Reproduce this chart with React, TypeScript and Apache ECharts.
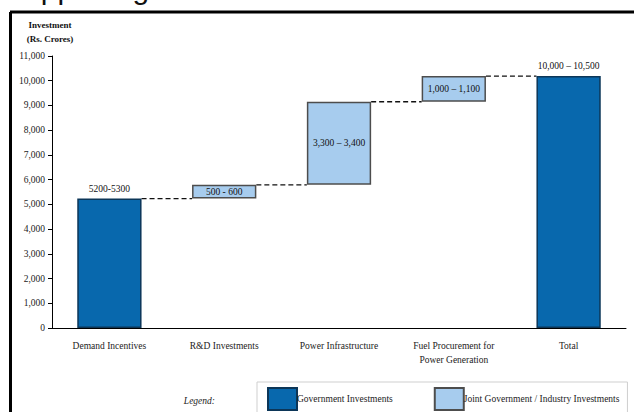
import React, { useEffect, useRef } from "react";
import * as echarts from "echarts";

const categories = [
  "Demand Incentives",
  "R&D Investments",
  "Power Infrastructure",
  "Fuel Procurement for\nPower Generation",
  "Total",
];
// Step sizes (Rs. Crores)
const governmentValues: (number | string)[] = [5235, "-", "-", "-", 10190];
const jointValues: (number | string)[] = ["-", 555, 3360, 1040, "-"];
const barLabels = ["5200-5300", "500 - 600", "3,300 – 3,400", "1,000 – 1,100", "10,000 – 10,500"];
const yTicks = { min: 0, max: 11000, interval: 1000 };

const DARK = "#0868ad";
const DARK_BORDER = "#0c3658";
const LIGHT = "#a7ccee";
const LIGHT_BORDER = "#4d4d4d";
const FONT = "Liberation Serif";
const BAR_RATIO = 0.56;

export default function App() {
  const ref = useRef<HTMLDivElement>(null);
  useEffect(() => {
    document.body.style.margin = "0";
    const chart = echarts.init(ref.current!, undefined, { renderer: "svg" });

    // invisible bases for the floating (waterfall) steps, built from the data
    const baseValues: number[] = [];
    const levels: number[] = [];
    let running = 0;
    categories.forEach((_, i) => {
      const isTotal = i === categories.length - 1;
      const g = governmentValues[i];
      const j = jointValues[i];
      const step = typeof g === "number" ? g : typeof j === "number" ? j : 0;
      if (isTotal) {
        baseValues.push(0);
      } else {
        baseValues.push(running);
        running += step;
        levels.push(running);
      }
    });

    const connectorData = levels.map((lv, i) => [i, lv]);

    chart.setOption({
      animation: false,
      grid: { left: 52, right: 8, top: 56, bottom: 84 },
      xAxis: {
        type: "category",
        data: categories,
        axisLine: { lineStyle: { color: "#000", width: 1 } },
        axisTick: { length: 5, lineStyle: { color: "#000" } },
        axisLabel: {
          color: "#222",
          fontFamily: FONT,
          fontSize: 9.5,
          lineHeight: 14,
          margin: 11,
        },
      },
      yAxis: {
        type: "value",
        min: yTicks.min,
        max: yTicks.max,
        interval: yTicks.interval,
        splitLine: { show: false },
        axisLine: { show: true, lineStyle: { color: "#000", width: 1 } },
        axisTick: { show: true, length: 4, lineStyle: { color: "#000" } },
        axisLabel: {
          color: "#222",
          fontFamily: FONT,
          fontSize: 9.5,
          margin: 7,
          formatter: (v: number) => v.toLocaleString("en-US"),
        },
      },
      legend: {
        left: 257,
        top: 382,
        padding: [5, 8, 5, 10],
        itemWidth: 29,
        itemHeight: 22,
        itemGap: 41,
        borderColor: "#cfcfcf",
        borderWidth: 1,
        icon: "rect",
        data: ["Government Investments", "Joint Government / Industry Investments"],
        textStyle: { fontFamily: FONT, fontSize: 9.5, color: "#222", padding: [0, 0, 0, -5] },
      },
      series: [
        {
          name: "base",
          type: "bar",
          stack: "w",
          barWidth: BAR_RATIO * 100 + "%",
          itemStyle: { color: "transparent" },
          data: baseValues,
          silent: true,
        },
        {
          name: "Government Investments",
          type: "bar",
          stack: "w",
          itemStyle: { color: DARK, borderColor: DARK_BORDER, borderWidth: 1.5 },
          label: {
            show: true,
            position: "top",
            distance: 5,
            fontFamily: FONT,
            fontSize: 9.5,
            color: "#111",
            formatter: (p: any) => barLabels[p.dataIndex],
          },
          data: governmentValues,
        },
        {
          name: "Joint Government / Industry Investments",
          type: "bar",
          stack: "w",
          itemStyle: { color: LIGHT, borderColor: LIGHT_BORDER, borderWidth: 1.5 },
          label: {
            show: true,
            position: "inside",
            fontFamily: FONT,
            fontSize: 9.5,
            color: "#111",
            formatter: (p: any) => barLabels[p.dataIndex],
          },
          data: jointValues,
        },
        {
          name: "connectors",
          type: "custom",
          silent: true,
          data: connectorData,
          renderItem: (params: any, api: any) => {
            const i = api.value(0);
            const lv = api.value(1);
            const a = api.coord([i, lv]);
            const b = api.coord([i + 1, lv]);
            const bw = api.size([1, 0])[0] * BAR_RATIO;
            return {
              type: "line",
              shape: { x1: a[0] + bw / 2, y1: a[1], x2: b[0] - bw / 2, y2: b[1] },
              style: { stroke: "#111", lineWidth: 1.3, lineDash: [5, 3] },
            };
          },
        },
      ],
      graphic: [
        {
          type: "text",
          left: 4,
          top: -27,
          style: { text: "Supporting", font: "30px 'Liberation Sans'", fill: "#111" },
        },
        { type: "line", shape: { x1: 10, y1: 12, x2: 634, y2: 12 }, style: { stroke: "#000", lineWidth: 3 } },
        { type: "line", shape: { x1: 10.5, y1: 12, x2: 10.5, y2: 412 }, style: { stroke: "#000", lineWidth: 3 } },
        {
          type: "text",
          x: 50,
          y: 18,
          style: {
            text: "Investment\n(Rs. Crores)",
            font: `bold 9px '${FONT}'`,
            fill: "#111",
            align: "center",
            verticalAlign: "top",
            lineHeight: 14,
          },
        },
        {
          type: "text",
          x: 215,
          y: 401,
          style: {
            text: "Legend:",
            font: `italic 9.5px '${FONT}'`,
            fill: "#222",
            align: "right",
            verticalAlign: "middle",
          },
        },
      ],
    });
    return () => chart.dispose();
  }, []);
  return <div ref={ref} style={{ width: 634, height: 412 }} />;
}
